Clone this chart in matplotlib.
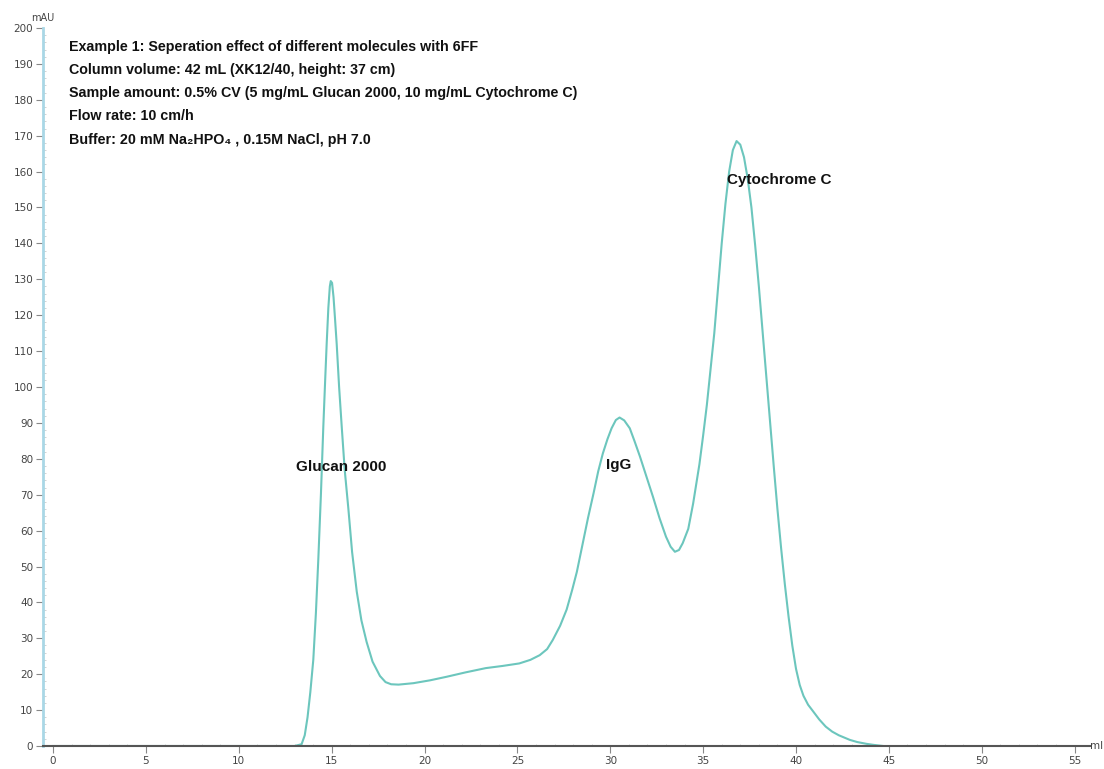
'''
Chromatogram: separation of Glucan 2000, IgG and Cytochrome C on 6FF.
'''
import numpy as np
import matplotlib
matplotlib.use('Agg')
import matplotlib.pyplot as plt
from matplotlib.ticker import MultipleLocator

##############################################################################
# trace (ml, mAU)
volume = [0.0, 13.0, 13.38, 13.55, 13.7, 13.85, 14.01, 14.15, 14.28, 14.42,
          14.55, 14.65, 14.73, 14.82, 14.9, 14.95, 15.02, 15.1, 15.18, 15.27,
          15.4, 15.54, 15.7, 15.9, 16.1, 16.35, 16.6, 16.88, 17.2, 17.6,
          17.9, 18.2, 18.6, 19.4, 20.3, 21.2, 22.2, 23.3, 24.2, 25.1, 25.7,
          26.2, 26.6, 26.9, 27.3, 27.65, 27.95, 28.2, 28.5, 28.8, 29.1,
          29.35, 29.6, 29.85, 30.07, 30.3, 30.5, 30.75, 31.05, 31.3, 31.6,
          31.95, 32.3, 32.65, 33.0, 33.25, 33.48, 33.7, 33.9, 34.2, 34.46,
          34.8, 35.0, 35.2, 35.4, 35.6, 35.8, 36.0, 36.2, 36.4, 36.6, 36.8,
          37.0, 37.2, 37.4, 37.6, 37.8, 38.0, 38.2, 38.4, 38.6, 38.8, 39.0,
          39.2, 39.4, 39.6, 39.8, 40.0, 40.2, 40.4, 40.65, 40.9, 41.25, 41.6,
          41.95, 42.3, 42.9, 43.3, 43.8, 44.2, 44.7]
absorbance = [0.0, 0.0, 0.5, 3.0, 8.0, 15.0, 24.0, 37.0, 52.0, 70.0,
              89.0, 102.0, 112.0, 122.0, 128.0, 129.5, 129.0, 125.0, 119.0,
              112.0, 100.0, 89.0, 77.0, 66.0, 54.0, 43.0, 35.0, 29.0, 23.5,
              19.5, 17.8, 17.2, 17.1, 17.5, 18.3, 19.3, 20.5, 21.7, 22.3,
              23.0, 24.0, 25.3, 27.0, 29.5, 33.5, 38.0, 43.5, 48.5, 56.0,
              63.5, 70.4, 76.5, 81.5, 85.5, 88.5, 90.8, 91.5, 90.7, 88.5,
              85.0, 80.6, 75.0, 69.4, 63.5, 58.3, 55.5, 54.1, 54.6, 56.5,
              60.5, 67.5, 78.5, 86.5, 95.0, 105.0, 115.0, 127.5, 140.0,
              151.0, 160.0, 166.0, 168.5, 167.5, 164.0, 158.0, 150.0, 139.5,
              128.0, 115.5, 103.0, 90.5, 78.0, 66.0, 55.0, 45.0, 36.0, 28.0,
              21.5, 17.0, 14.0, 11.5, 9.8, 7.4, 5.4, 4.0, 3.0, 1.7, 1.1,
              0.6, 0.3, 0.0]

peak_names = ['Glucan 2000', 'IgG', 'Cytochrome C']
peak_label_x = [15.5, 30.46, 39.1]
peak_label_y = [77.7, 78.3, 157.7]

header_lines = [
    'Example 1: Seperation effect of different molecules with 6FF',
    'Column volume: 42 mL (XK12/40, height: 37 cm)',
    'Sample amount: 0.5% CV (5 mg/mL Glucan 2000, 10 mg/mL Cytochrome C)',
    'Flow rate: 10 cm/h',
    'Buffer: 20 mM Na\u2082HPO\u2084 , 0.15M NaCl, pH 7.0',
]

xticks = np.arange(0, 56, 5)
yticks = np.arange(0, 201, 10)

##############################################################################
lineColor = '#6cc6bd'
yAxisColor = '#a9d7e6'
xAxisColor = '#555555'
tickColor = '#444444'
textFamily = ['Liberation Sans', 'DejaVu Sans']

fig = plt.figure(figsize=(11.04, 7.69), dpi=100)
ax = fig.add_axes([0.039, 0.0299, 0.948, 0.9337])

ax.plot(volume, absorbance, color=lineColor, lw=1.5, zorder=2,
        solid_joinstyle='round')

ax.set_xlim(-0.54, 55.81)
ax.set_ylim(0, 200)

for side in ('top', 'right'):
    ax.spines[side].set_visible(False)
ax.spines['left'].set_color(yAxisColor)
ax.spines['left'].set_linewidth(2.0)
ax.spines['bottom'].set_color(xAxisColor)
ax.spines['bottom'].set_linewidth(1.5)
ax.spines['bottom'].set_zorder(3)

ax.set_xticks(xticks)
ax.set_yticks(yticks)
ax.xaxis.set_minor_locator(MultipleLocator(1))
ax.yaxis.set_minor_locator(MultipleLocator(2))
ax.tick_params(axis='both', which='major', direction='out', length=5,
               width=0.8, color='#888888', labelsize=7.5,
               labelcolor=tickColor, pad=2)
ax.tick_params(axis='both', which='minor', direction='in', length=1.8,
               width=0.5, color='#c0c0c0')

ax.text(-0.54, 201.5, 'mAU', fontsize=7, color=tickColor,
        ha='center', va='bottom')
ax.text(55.85, 0, 'ml', fontsize=7.5, color=tickColor,
        ha='left', va='center')

for i, line in enumerate(header_lines):
    ax.text(0.86, 194.7 - 6.45*i, line, family=textFamily,
            fontweight='bold', fontsize=10.3, color='#111111',
            ha='left', va='center')

for name, lx, ly in zip(peak_names, peak_label_x, peak_label_y):
    ax.text(lx, ly, name, family=textFamily,
            fontweight='bold', fontsize=11, color='#111111',
            ha='center', va='center')

fig.savefig('out.png', dpi=100)
plt.close()
